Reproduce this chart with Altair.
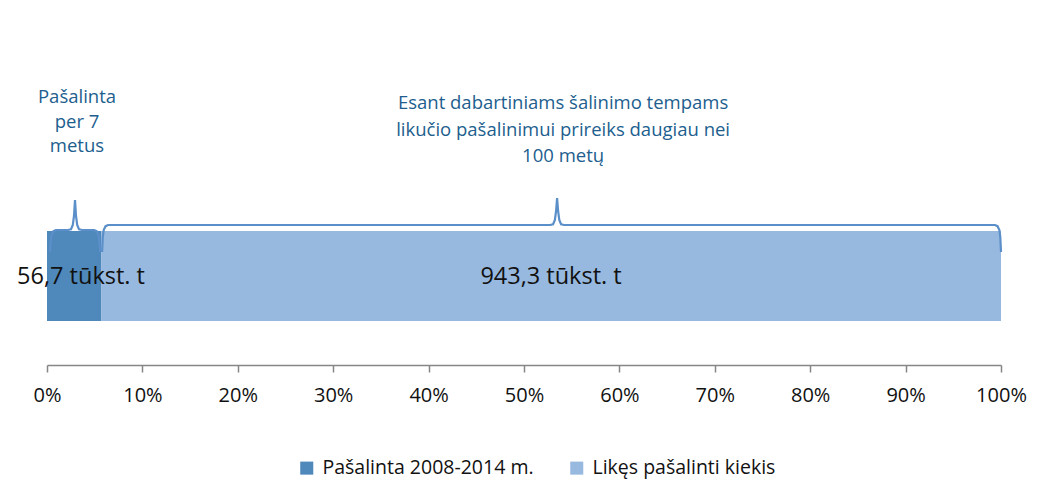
import altair as alt
import pandas as pd

# ---- data ----
categories = ["Pašalinta 2008-2014 m.", "Likęs pašalinti kiekis"]
values_kt = [56.7, 943.3]
bar_labels = ["56,7 tūkst. t", "943,3 tūkst. t"]
notes_small = ["Pašalinta", "per 7", "metus"]
notes_large = ["Esant dabartiniams šalinimo tempams",
               "likučio pašalinimui prireiks daugiau nei",
               "100 metų"]
tick_values = [0, 0.1, 0.2, 0.3, 0.4, 0.5, 0.6, 0.7, 0.8, 0.9, 1.0]
colors = ["#4F88BB", "#97B9E0"]

# ---- layout helpers (plot area: 954 x 357 px) ----
W, H = 954, 357
PX_X = 1.0 / W          # one pixel in x units
label_shift_px = [7, 0]  # horizontal nudge of bar labels
def yv(py):             # page pixel y -> vertical level (0..100)
    return (365 - py) / H * 100

total = sum(values_kt)
shares = [v / total for v in values_kt]
starts = [sum(shares[:i]) for i in range(len(shares))]
ends = [s + w for s, w in zip(starts, shares)]

bars = pd.DataFrame({
    "cat": categories, "start": starts, "end": ends,
    "ylo": [yv(321)] * 2, "yhi": [yv(231)] * 2,
    "mid": [(s + e) / 2 + d * PX_X for s, e, d in zip(starts, ends, label_shift_px)],
    "label": bar_labels, "ylab": [yv(277)] * 2,
})

def brace(x0, x1, xm, y_h, y_p, y_e, name):
    pts = [(x0, 0, y_e), (x0, 0.7, y_h + 12), (x0, 1.6, y_h + 5), (x0, 3.5, y_h + 1.2), (x0, 6, y_h),
           (xm, -7, y_h), (xm, -4, y_h - 0.8), (xm, -2.2, y_h - 5), (xm, -1, y_h - 14), (xm, 0, y_p),
           (xm, 1, y_h - 14), (xm, 2.2, y_h - 5), (xm, 4, y_h - 0.8), (xm, 7, y_h),
           (x1, -6, y_h), (x1, -3.5, y_h + 1.2), (x1, -1.6, y_h + 5), (x1, -0.7, y_h + 12), (x1, 0, y_e)]
    return [{"b": name, "o": i, "x": base + off * PX_X, "y": yv(py)} for i, (base, off, py) in enumerate(pts)]

br = pd.DataFrame(
    brace(starts[0] + 3 * PX_X, ends[0] - 1 * PX_X, starts[0] + 28 * PX_X, 230, 200, 252, "a")
    + brace(starts[1] + 1 * PX_X, ends[1], starts[1] + 456 * PX_X, 225, 198, 252, "b"))

notes = pd.DataFrame(
    [{"t": t, "x": starts[0] + 30 * PX_X, "y": yv(97 + 24.5 * i)} for i, t in enumerate(notes_small)]
    + [{"t": t, "x": starts[1] + 462 * PX_X, "y": yv(103 + 26.5 * i)} for i, t in enumerate(notes_large)])

FONT = "Open Sans"
xaxis = alt.Axis(values=tick_values, format="%", title=None, grid=False,
                 domainColor="#868686", domainWidth=1.5, tickColor="#868686",
                 tickWidth=1.5, tickSize=7, labelFontSize=20, labelColor="#111111",
                 labelFont=FONT, labelPadding=13, labelFlush=False)
xscale = alt.Scale(domain=[0, 1], nice=False)
yscale = alt.Scale(domain=[0, 100], nice=False)

bar_layer = alt.Chart(bars).mark_bar().encode(
    x=alt.X("start:Q", scale=xscale, axis=xaxis),
    x2="end:Q",
    y=alt.Y("ylo:Q", scale=yscale, axis=None),
    y2="yhi:Q",
    color=alt.Color("cat:N", scale=alt.Scale(domain=categories, range=colors),
                    legend=alt.Legend(title=None, orient="none", legendX=250, legendY=450,
                                      direction="horizontal", symbolType="square",
                                      symbolSize=170, symbolStrokeWidth=0,
                                      labelFontSize=19.5, labelFont=FONT, labelColor="#111111",
                                      labelLimit=0, columnPadding=33, padding=0, labelOffset=6)),
)

label_layer = alt.Chart(bars).mark_text(fontSize=23.5, font=FONT, color="#111111").encode(
    x=alt.X("mid:Q", scale=xscale, axis=xaxis),
    y=alt.Y("ylab:Q", scale=yscale, axis=None),
    text="label:N",
)

brace_layer = alt.Chart(br).mark_line(color="#5B8FC9", strokeWidth=2.2).encode(
    x=alt.X("x:Q", scale=xscale, axis=xaxis),
    y=alt.Y("y:Q", scale=yscale, axis=None),
    detail="b:N",
    order="o:Q",
)

note_layer = alt.Chart(notes).mark_text(fontSize=18.5, font=FONT, color="#215E8E").encode(
    x=alt.X("x:Q", scale=xscale, axis=xaxis),
    y=alt.Y("y:Q", scale=yscale, axis=None),
    text="t:N",
)

chart = alt.layer(bar_layer, brace_layer, label_layer, note_layer).properties(
    width=W, height=H,
    padding={"left": 39, "top": 0, "right": 35, "bottom": 127},
    autosize=alt.AutoSizeParams(type="none"),
).configure_view(stroke=None)

chart.save("out.html", embed_options={"renderer": "svg", "actions": False})
